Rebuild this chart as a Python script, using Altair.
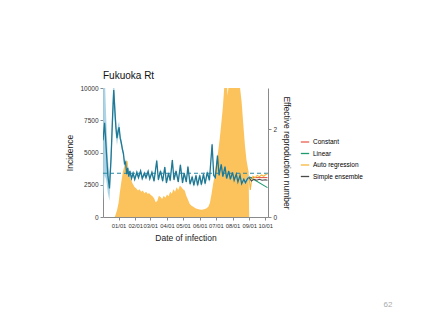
import altair as alt
import pandas as pd

# ---------------- data ----------------
inc_dates = ["2020-12-03", "2020-12-25", "2020-12-29", "2021-01-01", "2021-01-03", "2021-01-06",
             "2021-01-09", "2021-01-12", "2021-01-16", "2021-01-18", "2021-01-20", "2021-01-24",
             "2021-01-27", "2021-01-31", "2021-02-03", "2021-02-06", "2021-02-09", "2021-02-12",
             "2021-02-15", "2021-02-18", "2021-02-21", "2021-02-24", "2021-02-27", "2021-03-02",
             "2021-03-05", "2021-03-08", "2021-03-11", "2021-03-14", "2021-03-17", "2021-03-20",
             "2021-03-23", "2021-03-26", "2021-03-29", "2021-04-01", "2021-04-04", "2021-04-07",
             "2021-04-10", "2021-04-13", "2021-04-16", "2021-04-19", "2021-04-22", "2021-04-25",
             "2021-04-28", "2021-05-01", "2021-05-04", "2021-05-07", "2021-05-10", "2021-05-13",
             "2021-05-16", "2021-05-20", "2021-05-24", "2021-05-28", "2021-06-01", "2021-06-05",
             "2021-06-09", "2021-06-13", "2021-06-17", "2021-06-20", "2021-06-23", "2021-06-26",
             "2021-06-29", "2021-07-02", "2021-07-05", "2021-07-08", "2021-07-11", "2021-07-14",
             "2021-07-17", "2021-07-20", "2021-07-23", "2021-07-26", "2021-07-29", "2021-08-03",
             "2021-08-08", "2021-08-12", "2021-08-15", "2021-08-18", "2021-08-21", "2021-08-24",
             "2021-08-27", "2021-08-30", "2021-08-31", "2021-09-01"]
inc_vals = [0, 0, 500, 1100, 1800, 2700,
            3500, 4000, 4400, 4300, 3400, 2900,
            2600, 2300, 2200, 2050, 2150, 1950,
            2050, 1850, 1950, 1800, 1850, 1700,
            1600, 1450, 1150, 1250, 1650, 1550,
            1400, 1650, 1500, 1750, 1600, 1950,
            1800, 2150, 1950, 2300, 2100, 2450,
            2300, 2150, 2050, 1650, 1350, 1050,
            900, 800, 680, 620, 580, 560,
            600, 650, 800, 1100, 1800, 2600,
            3300, 4100, 5000, 6000, 7200, 8500,
            10300, 11500, 9400, 10800, 12000, 12500,
            12500, 11500, 10000, 8900, 7200, 5600,
            4400, 3700, 3500, 0]

rt_dates = ["2020-12-03", "2020-12-06", "2020-12-09", "2020-12-12", "2020-12-15", "2020-12-18",
            "2020-12-21", "2020-12-23", "2020-12-25", "2020-12-27", "2020-12-29", "2020-12-31",
            "2021-01-02", "2021-01-04", "2021-01-06", "2021-01-08", "2021-01-10", "2021-01-12",
            "2021-01-14", "2021-01-16", "2021-01-18", "2021-01-20", "2021-01-22", "2021-01-25",
            "2021-01-28", "2021-01-31", "2021-02-04", "2021-02-07", "2021-02-11", "2021-02-14",
            "2021-02-18", "2021-02-21", "2021-02-25", "2021-02-28", "2021-03-04", "2021-03-08",
            "2021-03-13", "2021-03-16", "2021-03-20", "2021-03-24", "2021-03-28", "2021-03-31",
            "2021-04-04", "2021-04-07", "2021-04-11", "2021-04-14", "2021-04-18", "2021-04-22",
            "2021-04-26", "2021-04-30", "2021-05-03", "2021-05-07", "2021-05-10", "2021-05-14",
            "2021-05-18", "2021-05-21", "2021-05-25", "2021-05-28", "2021-06-01", "2021-06-04",
            "2021-06-08", "2021-06-11", "2021-06-15", "2021-06-19", "2021-06-24", "2021-06-27",
            "2021-06-30", "2021-07-04", "2021-07-07", "2021-07-11", "2021-07-14", "2021-07-18",
            "2021-07-21", "2021-07-25", "2021-07-28", "2021-08-01", "2021-08-04", "2021-08-08",
            "2021-08-11", "2021-08-15", "2021-08-18", "2021-08-22", "2021-08-25", "2021-08-29",
            "2021-09-01"]
rt_vals = [1.75, 2.15, 1.55, 0.95, 0.65, 1.35,
           2.35, 2.90, 2.45, 2.05, 1.80, 1.95,
           2.05, 1.80, 1.70, 1.55, 1.45, 1.22,
           1.25, 0.98, 1.12, 0.92, 1.05, 0.88,
           1.00, 0.86, 1.02, 0.90, 1.05, 0.88,
           1.00, 0.90, 1.04, 0.87, 1.02, 0.82,
           1.29, 0.85, 1.05, 0.82, 1.14, 0.78,
           1.00, 0.83, 1.30, 0.85, 1.05, 0.80,
           1.19, 0.78, 1.00, 0.80, 1.15, 0.75,
           0.92, 0.72, 0.95, 0.72, 0.95, 0.74,
           0.98, 0.76, 1.02, 0.84, 1.66, 0.95,
           0.90, 1.40, 0.95, 1.20, 0.92, 1.15,
           0.88, 1.05, 0.86, 1.02, 0.84, 0.98,
           0.80, 0.95, 0.76, 0.86, 0.78, 0.88,
           0.90]
rt_hw = [1.40, 1.20, 0.70, 0.40, 0.28, 0.30,
         0.35, 0.40, 0.30, 0.22, 0.16, 0.15,
         0.13, 0.10, 0.09, 0.08, 0.08, 0.07,
         0.07, 0.06, 0.06, 0.05, 0.05, 0.05,
         0.05, 0.05, 0.05, 0.05, 0.05, 0.05,
         0.05, 0.05, 0.05, 0.05, 0.05, 0.05,
         0.05, 0.05, 0.05, 0.05, 0.05, 0.05,
         0.05, 0.05, 0.05, 0.05, 0.05, 0.05,
         0.05, 0.05, 0.05, 0.05, 0.05, 0.05,
         0.05, 0.05, 0.05, 0.05, 0.06, 0.06,
         0.06, 0.06, 0.06, 0.06, 0.06, 0.05,
         0.05, 0.05, 0.04, 0.04, 0.04, 0.04,
         0.04, 0.04, 0.04, 0.04, 0.04, 0.04,
         0.04, 0.04, 0.04, 0.04, 0.05, 0.05,
         0.06]

models = ["Constant", "Linear", "Auto regression", "Simple ensemble"]
model_colors = ["#E8604F", "#1E9A6E", "#F4B63A", "#4A4A4A"]

const_dates = ["2021-09-01", "2021-10-05"]
const_vals = [0.90, 0.90]
lin_dates = ["2021-09-01", "2021-10-05"]
lin_vals = [0.92, 0.67]
ar_dates = ["2021-09-01", "2021-09-03", "2021-09-05", "2021-09-08", "2021-09-12", "2021-09-16",
            "2021-09-20", "2021-09-24", "2021-09-28", "2021-10-02", "2021-10-05"]
ar_vals = [0.90, 0.62, 0.80, 0.93, 0.90, 0.95, 0.92, 0.96, 0.93, 0.97, 0.98]
ens_dates = ["2021-09-01", "2021-09-05", "2021-09-10", "2021-09-15", "2021-09-20", "2021-09-25",
             "2021-10-01", "2021-10-05"]
ens_vals = [0.90, 0.82, 0.86, 0.84, 0.86, 0.84, 0.85, 0.84]

# ---------------- tables ----------------
inc_df = pd.DataFrame({"date": [d + "T00:00:00" for d in inc_dates], "inc": inc_vals})
rt_df = pd.DataFrame({"date": [d + "T00:00:00" for d in rt_dates], "rt": rt_vals, "hw": rt_hw})
rt_df["lo"] = rt_df["rt"] - rt_df["hw"]
rt_df["hi"] = rt_df["rt"] + rt_df["hw"]

fc_rows = []
for name, ds, vs in [("Constant", const_dates, const_vals), ("Linear", lin_dates, lin_vals),
                     ("Auto regression", ar_dates, ar_vals), ("Simple ensemble", ens_dates, ens_vals)]:
    for d, v in zip(ds, vs):
        fc_rows.append({"date": d + "T00:00:00", "rt": v, "model": name})
fc_df = pd.DataFrame(fc_rows)

# ---------------- encodings ----------------
FONT = "Liberation Sans"
xscale = alt.Scale(domain=[alt.DateTime(year=2020, month=12, date=3),
                           alt.DateTime(year=2021, month=10, date=6)])
xaxis = alt.Axis(values=[alt.DateTime(year=2021, month=m, date=1) for m in range(1, 11)],
                 format="%m/%d", title="Date of infection", grid=False, labelFlush=False,
                 labelOverlap=False, titlePadding=6, labelFontSize=5.8)


def X():
    return alt.X("date:T", scale=xscale, axis=xaxis)


rt_scale = alt.Scale(domain=[0, 2.945], nice=False, zero=False)
rt_axis = alt.Axis(orient="right", values=[0, 2], title="Effective reproduction number",
                   grid=False, titlePadding=5, labelOverlap=False)

area = alt.Chart(inc_df).mark_area(color="#FCC35C", clip=True).encode(
    x=X(),
    y=alt.Y("inc:Q", scale=alt.Scale(domain=[0, 10000], nice=False),
            axis=alt.Axis(values=[0, 2500, 5000, 7500, 10000], format="d", title="Incidence",
                          grid=False, orient="left", titlePadding=5, labelOverlap=False)),
)

band = alt.Chart(rt_df).mark_area(color="#A3CFE3", opacity=0.9, clip=True).encode(
    x=X(),
    y=alt.Y("lo:Q", scale=rt_scale, axis=rt_axis),
    y2="hi:Q",
)
line = alt.Chart(rt_df).mark_line(color="#1F7894", strokeWidth=1.3, clip=True).encode(
    x=X(),
    y=alt.Y("rt:Q", scale=rt_scale, axis=rt_axis),
)
rule = alt.Chart(pd.DataFrame({"v": [1]})).mark_rule(
    color="#2A86A2", strokeDash=[4, 3], strokeWidth=1.1).encode(
    y=alt.Y("v:Q", scale=rt_scale, axis=rt_axis),
)
fc = alt.Chart(fc_df).mark_line(strokeWidth=1.1, clip=True).encode(
    x=X(),
    y=alt.Y("rt:Q", scale=rt_scale, axis=rt_axis),
    color=alt.Color("model:N", sort=models,
                    scale=alt.Scale(domain=models, range=model_colors),
                    legend=alt.Legend(title=None, orient="none", legendX=197, legendY=49,
                                      symbolType="stroke", symbolSize=70,
                                      symbolStrokeWidth=1.3, labelFontSize=6.5,
                                      labelFont=FONT, rowPadding=2.5, labelOffset=3)),
)

rt_layer = alt.layer(band, rule, line, fc)

page = alt.Chart(pd.DataFrame({"t": ["62"]})).mark_text(
    color="#AAAAAA", fontSize=8, font=FONT).encode(
    text="t:N", x=alt.value(285), y=alt.value(217))

chart = alt.layer(area, rt_layer, page).resolve_scale(y="independent").properties(
    width=165, height=129,
    autosize=alt.AutoSizeParams(type="none"),
    padding={"left": 95, "top": 80, "right": 151, "bottom": 95},
    title=alt.TitleParams("Fukuoka Rt", anchor="start", frame="group", fontSize=10,
                          fontWeight="normal", font=FONT, color="#111111", offset=4),
).configure_view(stroke=None).configure_axis(
    domainColor="#8A8A8A", tickColor="#8A8A8A", tickSize=3, labelFontSize=6.5,
    labelColor="#333333", labelFont=FONT, titleFont=FONT, titleFontSize=8.5,
    titleFontWeight="normal", titleColor="#222222", labelPadding=2,
)

chart.save("out.html", embed_options={"renderer": "svg", "actions": False})
